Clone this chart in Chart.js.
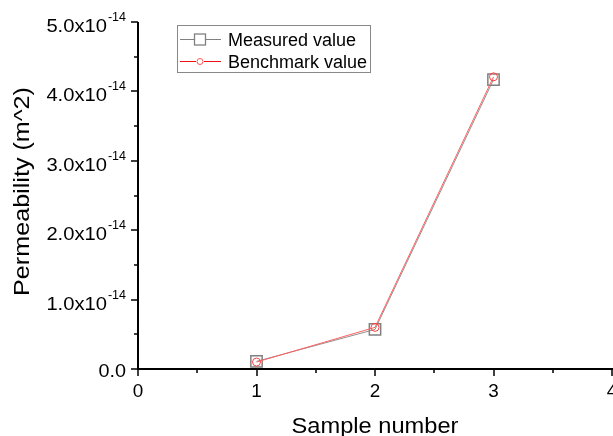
<!DOCTYPE html>
<html>
<head>
<meta charset="utf-8">
<script src="https://cdn.jsdelivr.net/npm/chart.js@4/dist/chart.umd.min.js"></script>
<style>
  html, body { margin: 0; padding: 0; background: #fff; }
  #wrap { width: 613px; height: 436px; }
</style>
</head>
<body>
<div id="wrap"><canvas id="chart" width="613" height="436"></canvas></div>
<script>
const samples = [1, 2, 3];
const measured = [1.1e-15, 5.7e-15, 4.17e-14];
const benchmark = [1.0e-15, 6.0e-15, 4.21e-14];
const xTicks = [0, 1, 2, 3, 4];
const yTickMantissas = [0, 1, 2, 3, 4, 5];
const yExponent = -14;

const FONT = "'Liberation Sans', Arial, sans-serif";

// text a bit wider than the font gives, like the Origin export
function wideText(ctx, text, x, y, size, sx, align) {
  ctx.save();
  ctx.font = size + "px " + FONT;
  const w = ctx.measureText(text).width * sx;
  let left = x;
  if (align === "center") left = x - w / 2;
  if (align === "right") left = x - w;
  ctx.translate(left, y);
  ctx.scale(sx, 1);
  ctx.textAlign = "left";
  ctx.fillText(text, 0, 0);
  ctx.restore();
  return w;
}

const originAxes = {
  id: "originAxes",
  afterDraw(chart) {
    const { ctx, chartArea: a, scales: { x, y } } = chart;
    ctx.save();
    ctx.strokeStyle = "#000";
    ctx.fillStyle = "#000";
    ctx.textBaseline = "alphabetic";

    // axis lines
    ctx.lineWidth = 2;
    ctx.beginPath();
    ctx.moveTo(a.left, a.top);
    ctx.lineTo(a.left, a.bottom + 1);
    ctx.moveTo(a.left - 1, a.bottom);
    ctx.lineTo(a.right + 2, a.bottom);
    ctx.stroke();

    // major + minor ticks
    ctx.lineWidth = 1.5;
    ctx.beginPath();
    for (let v = 0; v <= 4.001; v += 0.5) {
      const px = Math.round(x.getPixelForValue(v));
      const len = Number.isInteger(v) ? 7 : 4;
      ctx.moveTo(px, a.bottom);
      ctx.lineTo(px, a.bottom + len);
    }
    for (let v = 0; v <= 5.001; v += 0.5) {
      const py = Math.round(y.getPixelForValue(v * 1e-14));
      const len = Number.isInteger(v) ? 7 : 4;
      ctx.moveTo(a.left, py);
      ctx.lineTo(a.left - len, py);
    }
    ctx.stroke();

    // x tick labels
    xTicks.forEach((t) => {
      wideText(ctx, String(t), x.getPixelForValue(t), a.bottom + 28, 18, 1.05, "center");
    });

    // y tick labels with superscript exponent
    const right = a.left - 12;
    yTickMantissas.forEach((m) => {
      const py = y.getPixelForValue(m * Math.pow(10, yExponent));
      if (m === 0) {
        wideText(ctx, "0.0", right, py + 8, 18, 1.1, "right");
        return;
      }
      const ew = wideText(ctx, String(yExponent), right, py - 1, 12.5, 1.0, "right");
      wideText(ctx, m.toFixed(1) + "x10", right - ew - 1, py + 10, 18, 1.12, "right");
    });

    // axis titles
    wideText(ctx, "Sample number", (a.left + a.right) / 2, 433, 21.5, 1.1, "center");
    ctx.save();
    ctx.translate(29, (a.top + a.bottom) / 2 - 4);
    ctx.rotate(-Math.PI / 2);
    wideText(ctx, "Permeability (m^2)", 0, 0, 21.5, 1.17, "center");
    ctx.restore();

    // legend
    ctx.lineWidth = 1;
    ctx.strokeStyle = "#888";
    ctx.strokeRect(177.5, 25.5, 193, 47);

    ctx.strokeStyle = "#808080";
    ctx.beginPath();
    ctx.moveTo(180, 39.5); ctx.lineTo(194.5, 39.5);
    ctx.moveTo(205.5, 39.5); ctx.lineTo(221, 39.5);
    ctx.stroke();
    ctx.lineWidth = 1.3;
    ctx.strokeRect(194.5, 34, 11, 11);
    wideText(ctx, "Measured value", 228, 46, 18, 1.0, "left");

    ctx.lineWidth = 1;
    ctx.strokeStyle = "#ee1111";
    ctx.beginPath();
    ctx.moveTo(180, 61.5); ctx.lineTo(196, 61.5);
    ctx.moveTo(204, 61.5); ctx.lineTo(221, 61.5);
    ctx.stroke();
    ctx.strokeStyle = "#ff5555";
    ctx.beginPath();
    ctx.arc(200, 61.5, 3, 0, Math.PI * 2);
    ctx.stroke();
    wideText(ctx, "Benchmark value", 228, 68, 18, 1.0, "left");

    ctx.restore();
  },
};

new Chart(document.getElementById("chart"), {
  type: "line",
  data: {
    datasets: [
      {
        label: "Measured value",
        data: samples.map((s, i) => ({ x: s, y: measured[i] })),
        borderColor: "#909090",
        borderWidth: 1,
        pointStyle: "rect",
        pointRadius: 8,
        pointBorderWidth: 1.5,
        pointBorderColor: "#808080",
        pointBackgroundColor: "rgba(0,0,0,0)",
        order: 1,
      },
      {
        label: "Benchmark value",
        data: samples.map((s, i) => ({ x: s, y: benchmark[i] })),
        borderColor: "#ff6060",
        borderWidth: 1,
        pointStyle: "circle",
        pointRadius: 4,
        pointBorderWidth: 1,
        pointBorderColor: "#ff4040",
        pointBackgroundColor: "rgba(0,0,0,0)",
        order: 0,
      },
    ],
  },
  options: {
    responsive: false,
    animation: false,
    layout: { autoPadding: false, padding: { left: 138, right: 1, top: 22, bottom: 67 } },
    plugins: { legend: { display: false }, tooltip: { enabled: false } },
    scales: {
      x: { type: "linear", display: false, min: 0, max: 4 },
      y: { display: false, min: 0, max: 5e-14 },
    },
  },
  plugins: [originAxes],
});
</script>
</body>
</html>
